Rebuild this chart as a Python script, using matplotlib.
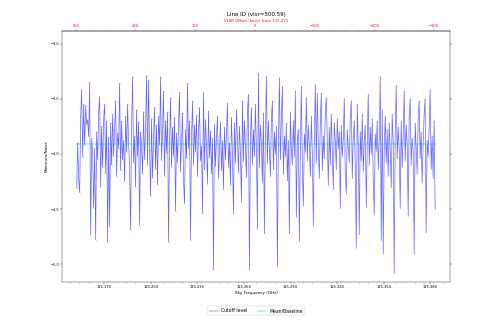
import numpy as np
import matplotlib
matplotlib.use("Agg")
import matplotlib.pyplot as plt
from matplotlib.lines import Line2D
from matplotlib.ticker import MultipleLocator

# spectrum channels (GHz) and minimum/noise per channel
freq_start = 115.1562
freq_stop = 115.3872
noise_ratio = [
    -4.31, -3.90, -4.24, -4.35, -3.66, -3.42, -4.03, -3.55, -3.92, -3.56,
    -3.73, -3.69, -3.84, -3.35, -4.74, -3.86, -3.99, -4.49, -3.95, -4.78,
    -3.80, -4.05, -3.62, -3.48, -4.30, -3.75, -4.12, -3.68, -3.55, -4.18,
    -3.70, -4.80, -3.85, -4.66, -3.72, -4.10, -3.64, -4.02, -3.78, -3.52,
    -4.20, -3.81, -3.95, -3.36, -4.15, -3.70, -4.05, -3.88, -4.25, -3.66,
    -3.98, -3.55, -3.90, -4.12, -4.69, -3.74, -3.30, -4.08, -3.84, -4.30,
    -3.60, -4.02, -3.71, -4.65, -3.80, -3.93, -4.18, -3.62, -4.05, -3.77,
    -3.29, -4.10, -3.33, -3.96, -4.38, -3.68, -4.22, -3.85, -3.58, -4.14,
    -3.74, -4.28, -3.66, -3.92, -3.30, -4.06, -3.80, -3.43, -4.20, -3.70,
    -3.99, -3.62, -4.80, -3.88, -3.49, -4.12, -3.76, -4.02, -3.67, -4.52,
    -3.81, -4.08, -3.72, -3.44, -4.16, -3.90, -3.63, -4.24, -4.45, -3.78,
    -4.04, -3.36, -3.95, -3.70, -4.78, -3.86, -3.52, -4.10, -3.74, -3.98,
    -3.65, -4.20, -3.82, -3.58, -4.06, -3.93, -4.54, -3.44, -4.14, -3.69,
    -3.92, -4.27, -3.61, -4.03, -3.79, -4.18, -3.86, -5.05, -3.73, -4.11,
    -3.84, -3.66, -4.22, -3.95, -3.71, -4.15, -3.88, -4.32, -3.76, -4.05,
    -3.81, -3.54, -4.12, -3.90, -4.28, -3.67, -3.98, -4.54, -3.72, -4.08,
    -3.60, -3.86, -4.17, -3.75, -3.99, -4.44, -3.52, -4.06, -3.70, -3.94,
    -4.21, -3.62, -3.46, -5.05, -3.88, -3.58, -4.10, -3.78, -4.02, -3.55,
    -3.96, -4.68, -3.27, -4.12, -3.74, -3.90, -4.26, -3.63, -4.72, -3.84,
    -3.30, -4.08, -3.70, -3.96, -4.20, -3.68, -3.52, -4.14, -3.80, -4.00,
    -3.75, -5.02, -3.92, -3.31, -4.05, -3.66, -3.39, -4.18, -3.84, -4.02,
    -3.72, -4.24, -3.88, -4.72, -3.62, -3.96, -4.10, -3.70, -4.02, -3.43,
    -4.57, -3.86, -3.78, -4.79, -3.94, -3.39, -4.12, -4.47, -3.82, -3.98,
    -3.49, -4.06, -3.74, -3.92, -4.20, -3.66, -4.00, -4.65, -3.85, -3.37,
    -4.08, -3.45, -3.96, -4.22, -3.70, -3.45, -4.15, -3.84, -4.04, -3.62,
    -3.49, -3.90, -4.28, -3.76, -4.10, -3.64, -3.98, -4.32, -3.72, -3.88,
    -4.14, -3.68, -3.95, -3.80, -4.49, -3.74, -4.02, -3.86, -3.50, -4.18,
    -4.36, -3.78, -3.94, -4.08, -3.66, -3.52, -4.22, -3.84, -3.70, -4.12,
    -4.85, -3.55, -3.92, -4.73, -3.80, -4.06, -3.64, -4.16, -3.88, -3.74,
    -4.48, -3.90, -3.46, -4.10, -3.76, -4.00, -3.68, -4.24, -4.55, -3.82,
    -3.97, -3.70, -4.14, -3.86, -3.30, -4.78, -3.60, -4.90, -3.94, -3.66,
    -4.08, -3.78, -4.20, -3.72, -3.99, -4.30, -3.64, -3.90, -5.08, -3.84,
    -3.38, -4.04, -3.76, -3.96, -4.49, -3.70, -4.12, -3.82, -3.43, -4.06,
    -3.74, -3.92, -4.56, -3.66, -3.50, -4.10, -3.86, -3.98, -4.90, -3.72,
    -3.95, -4.18, -3.68, -3.52, -4.04, -3.80, -4.26, -3.90, -3.64, -3.50,
    -4.71, -3.88, -4.02, -3.76, -3.42, -4.14, -3.84, -4.22, -3.70, -4.50,
]
baseline_level = -3.91
rest_freq = 115.271
vlsr = 500.59
freq_ticks = [115.174, 115.204, 115.234, 115.264, 115.294, 115.324, 115.354, 115.384]
vel_ticks = [300, 200, 100, 0, -100, -200, -300]

C_KMS = 299792.458

freq = np.linspace(freq_start, freq_stop, len(noise_ratio))


def f2v(f):
    return C_KMS * (rest_freq - f) / rest_freq


def v2f(v):
    return rest_freq * (1 - v / C_KMS)


fig = plt.figure(figsize=(15, 10), dpi=33.2)
ax = fig.add_axes([0.125, 0.1515, 0.779, 0.7545])

ax.plot(freq, noise_ratio, color='blue', lw=1.5, alpha=0.6)
ax.plot(freq, noise_ratio, 'r.', ms=3, alpha=0.2)
ax.plot([freq[0], freq[-1]], [baseline_level, baseline_level],
        color='deepskyblue', lw=4, alpha=0.3)

ax.set_xlim(115.1469, 115.3969)
ax.set_ylim(-5.158, -2.888)
ax.set_xticks(freq_ticks)
ax.set_xticklabels(['%.3f' % t for t in freq_ticks])
ax.xaxis.set_minor_locator(MultipleLocator(0.006))
ax.set_yticks([-3.0, -3.5, -4.0, -4.5, -5.0])
ax.tick_params(axis='both', which='both', labelsize=8, right=True)
ax.set_xlabel('Sky Frequency (GHz)', fontsize=9)
ax.set_ylabel('Minimum/Noise', fontsize=9)

top = ax.secondary_xaxis('top', functions=(f2v, v2f))
top.set_xticks(vel_ticks)
top.xaxis.set_minor_locator(MultipleLocator(25))
top.tick_params(axis='x', which='both', labelsize=8, colors='red')
top.set_xlabel('VLSR Offset (km/s) from %.3f' % rest_freq, fontsize=8.5, color='red')

ax.set_title('Line ID (vlsr=%.2f)' % vlsr, fontsize=12)

handles = [Line2D([], [], color='g', lw=1), Line2D([], [], color='c', lw=1)]
fig.legend(handles, ['Cutoff level', 'Mean/Baseline'], loc='center', ncol=2,
           bbox_to_anchor=(0.514, 0.064), fontsize=10, fancybox=True, framealpha=1)

fig.savefig('out.png', dpi=33.2)
